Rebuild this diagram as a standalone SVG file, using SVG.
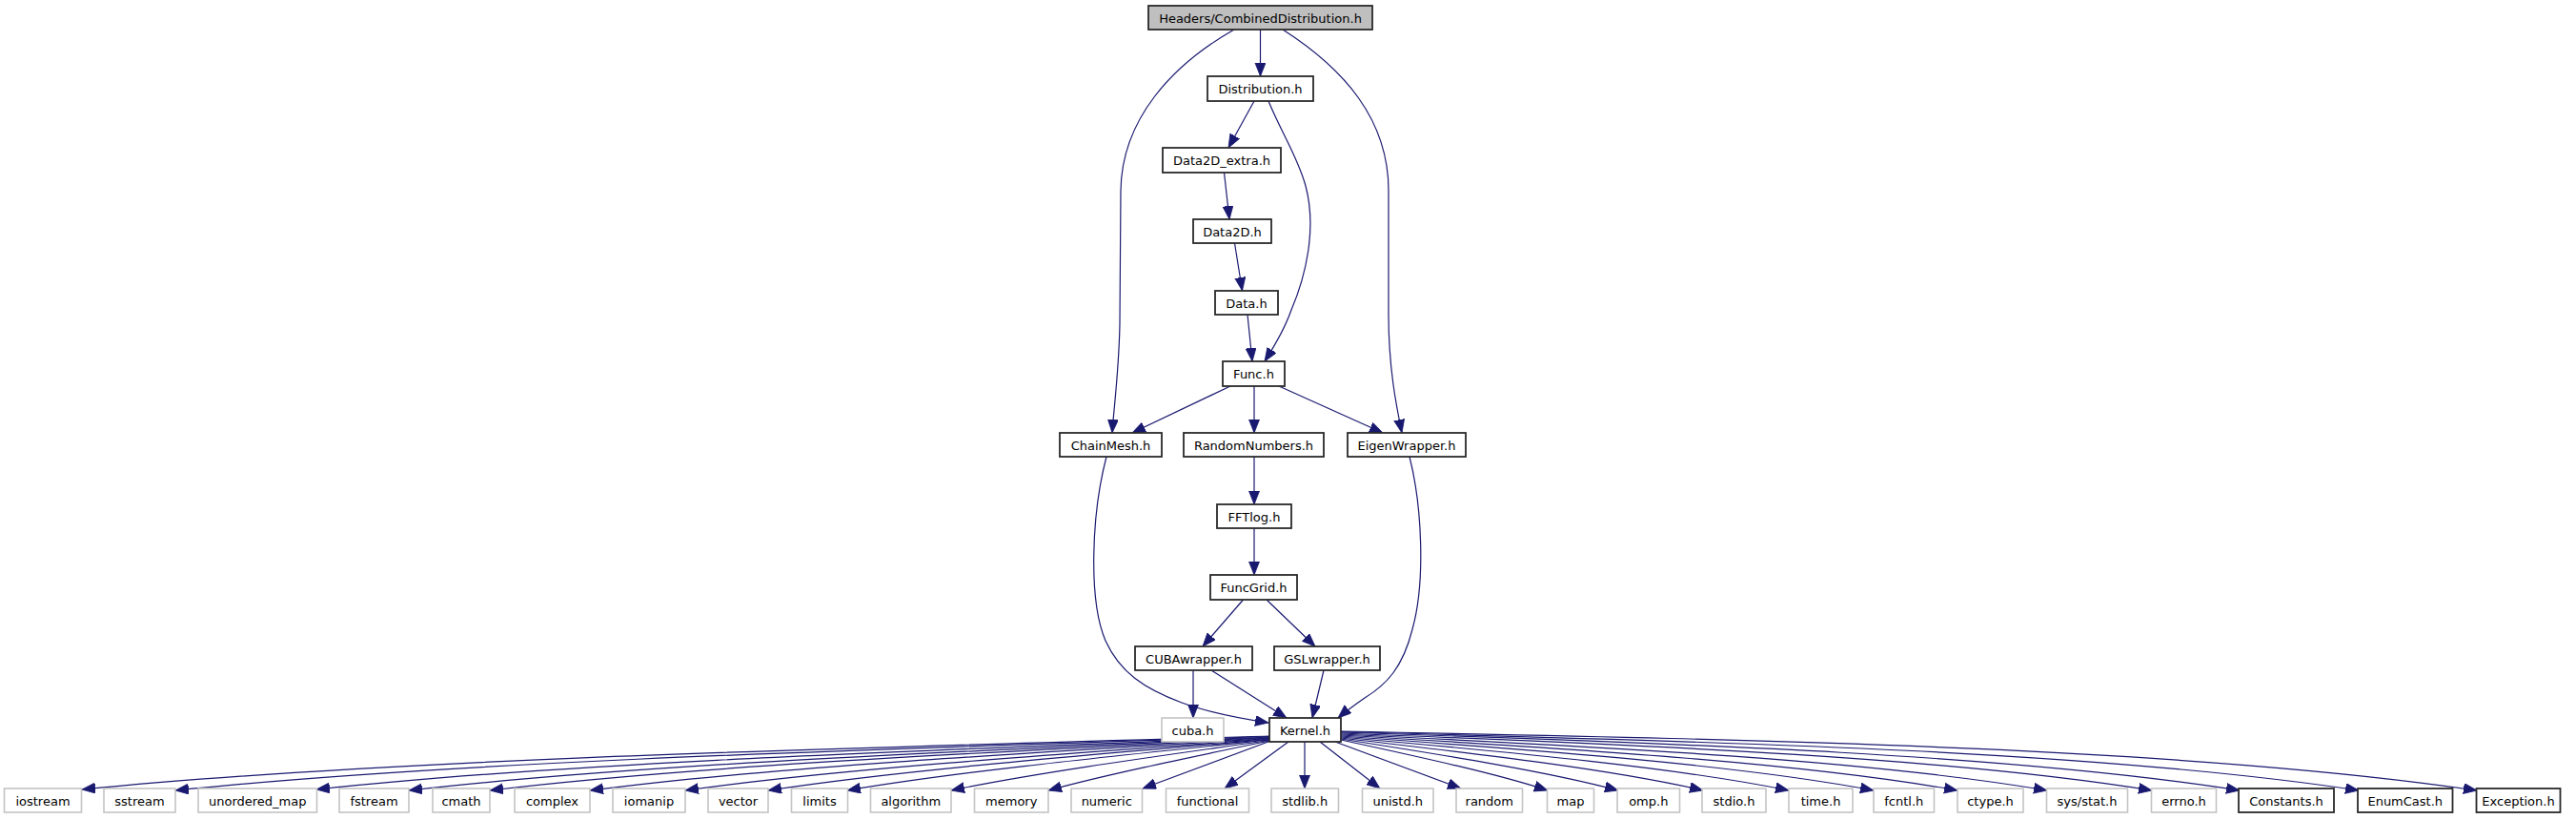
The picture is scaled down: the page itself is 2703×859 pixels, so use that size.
<svg xmlns="http://www.w3.org/2000/svg" width="2703" height="859" viewBox="0 0 2703 859">
<style>
.n rect{fill:#ffffff;stroke:#2a2a2a;stroke-width:1.8}
.n.ext rect{stroke:#c4c4c4;stroke-width:1.6}
.n.root rect{fill:#bfbfbf}
.n text{font-family:"DejaVu Sans","Liberation Sans",sans-serif;font-size:13px;fill:#000000;text-anchor:middle}
.e path{fill:none;stroke:#191970;stroke-width:1.2;marker-end:url(#ah)}
</style>
<defs>
<marker id="ah" markerUnits="userSpaceOnUse" markerWidth="15" markerHeight="12" refX="14" refY="5.5" orient="auto">
<path d="M0,0 L14,5.5 L0,11 z" fill="#191970" stroke="#191970" stroke-width="0.8"/>
</marker>
</defs>
<rect x="0" y="0" width="2703" height="859" fill="#ffffff"/>
<g id="edges" class="e">
<path d="M1322.5,31 L1322.5,80"/>
<path d="M1295,31 C1230,68 1177,125 1176,200 L1175,340 C1174,390 1169,425 1167,454"/>
<path d="M1346,31 C1410,72 1457,125 1457,200 L1457,330 C1457,385 1465,425 1471,454"/>
<path d="M1316,106 L1289,155"/>
<path d="M1331,106 C1345,140 1362,165 1370,195 C1382,240 1370,290 1355,325 C1348,345 1336,365 1327,379"/>
<path d="M1284.5,181 L1290,230"/>
<path d="M1295.5,255 L1303.5,305"/>
<path d="M1309,330 L1314,379"/>
<path d="M1291,405 L1188,454"/>
<path d="M1316,405 L1316,454"/>
<path d="M1342,405 L1451,454"/>
<path d="M1161,479 C1145,540 1142,630 1160,672 C1175,705 1200,722 1240,737 C1270,748 1305,754 1331,758"/>
<path d="M1316,479 L1316,529"/>
<path d="M1316,554 L1316,603"/>
<path d="M1304.5,629 L1262,678"/>
<path d="M1329,629 L1380,678"/>
<path d="M1479,479 C1492,530 1496,610 1482,660 C1472,700 1455,718 1432,732 C1422,739 1412,746 1404,753"/>
<path d="M1252,703 L1252,753"/>
<path d="M1271,703 L1350,753"/>
<path d="M1389,703 L1377,753"/>
<path d="M1332,772 C833.6,786 397.5,797.2 86,828"/>
<path d="M1332,772.5 C872.8,787.3 471,799.3 184,829"/>
<path d="M1332,773 C932,788.4 582,801 332,828"/>
<path d="M1332,773.5 C970.8,789.7 654.75,803.05 429,829"/>
<path d="M1332,774 C1004.8,790.6 718.5,804.4 514,829"/>
<path d="M1332,774.5 C1046.8,791.6 797.25,806 619,829"/>
<path d="M1332,775 C1086.8,792.6 872.25,807.5 719,829"/>
<path d="M1332,775.5 C1121.6,793.5 937.5,808.8 806,829"/>
<path d="M1332,776 C1154.8,794.4 999.75,810.1 889,829"/>
<path d="M1332,776.5 C1198.4,795.4 1081.5,811.7 998,829"/>
<path d="M1332,777 C1239.2,796.3 1158,813.1 1100,829"/>
<path d="M1332,777.5 L1199,827"/>
<path d="M1352,778 L1285,827"/>
<path d="M1369,778 L1369,827"/>
<path d="M1385,778 L1448,827"/>
<path d="M1401,778 L1533,827"/>
<path d="M1407,776 C1493.8,794.8 1569.75,811.4 1624,829"/>
<path d="M1407,775 C1523.4,793.3 1625.25,809.6 1698,829"/>
<path d="M1407,774 C1559,791.6 1692,807.3 1787,829"/>
<path d="M1407,773 C1595,789.9 1759.5,805.1 1877,829"/>
<path d="M1407,772 C1630.6,788.1 1826.25,802.7 1966,829"/>
<path d="M1407,771 C1665.8,786.3 1892.25,800.3 2054,829"/>
<path d="M1407,770 C1703.4,784.4 1962.75,797.7 2148,829"/>
<path d="M1407,769 C1747.4,782.3 2045.25,794.7 2258,829"/>
<path d="M1407,768 C1784.2,780.3 2114.25,792 2350,829"/>
<path d="M1407,767.5 C1834.2,778.3 2208,788.8 2475,829"/>
<path d="M1407,767 C1883.8,776.3 2301,785.6 2599,829"/>
</g>
<g id="node-root" class="n root"><rect x="1205" y="6" width="235" height="25"/><text x="1322.5" y="23.5">Headers/CombinedDistribution.h</text></g>
<g id="node-distribution" class="n"><rect x="1267" y="80" width="111" height="26"/><text x="1322.5" y="98">Distribution.h</text></g>
<g id="node-data2d-extra" class="n"><rect x="1220" y="155" width="124" height="26"/><text x="1282" y="173">Data2D_extra.h</text></g>
<g id="node-data2d" class="n"><rect x="1252" y="230" width="82" height="25"/><text x="1293" y="247.5">Data2D.h</text></g>
<g id="node-data" class="n"><rect x="1275" y="305" width="66" height="25"/><text x="1308" y="322.5">Data.h</text></g>
<g id="node-func" class="n"><rect x="1283" y="379" width="65" height="26"/><text x="1315.5" y="397">Func.h</text></g>
<g id="node-chainmesh" class="n"><rect x="1112" y="454" width="107" height="25"/><text x="1165.5" y="471.5">ChainMesh.h</text></g>
<g id="node-randomnumbers" class="n"><rect x="1242" y="454" width="147" height="25"/><text x="1315.5" y="471.5">RandomNumbers.h</text></g>
<g id="node-eigenwrapper" class="n"><rect x="1414" y="454" width="124" height="25"/><text x="1476" y="471.5">EigenWrapper.h</text></g>
<g id="node-fftlog" class="n"><rect x="1277" y="529" width="78" height="25"/><text x="1316" y="546.5">FFTlog.h</text></g>
<g id="node-funcgrid" class="n"><rect x="1270" y="603" width="91" height="26"/><text x="1315.5" y="621">FuncGrid.h</text></g>
<g id="node-cubawrapper" class="n"><rect x="1191" y="678" width="123" height="25"/><text x="1252.5" y="695.5">CUBAwrapper.h</text></g>
<g id="node-gslwrapper" class="n"><rect x="1337" y="678" width="111" height="25"/><text x="1392.5" y="695.5">GSLwrapper.h</text></g>
<g id="node-cuba" class="n ext"><rect x="1219" y="753" width="65" height="25"/><text x="1251.5" y="770.5">cuba.h</text></g>
<g id="node-kernel" class="n"><rect x="1332" y="753" width="75" height="25"/><text x="1369.5" y="770.5">Kernel.h</text></g>
<g id="node-iostream" class="n ext"><rect x="4.5" y="827" width="81" height="25"/><text x="45" y="844.5">iostream</text></g>
<g id="node-sstream" class="n ext"><rect x="109" y="827" width="75" height="25"/><text x="146.5" y="844.5">sstream</text></g>
<g id="node-unordered-map" class="n ext"><rect x="208" y="827" width="124.5" height="25"/><text x="270.25" y="844.5">unordered_map</text></g>
<g id="node-fstream" class="n ext"><rect x="356" y="827" width="73" height="25"/><text x="392.5" y="844.5">fstream</text></g>
<g id="node-cmath" class="n ext"><rect x="454" y="827" width="60" height="25"/><text x="484" y="844.5">cmath</text></g>
<g id="node-complex" class="n ext"><rect x="540" y="827" width="79" height="25"/><text x="579.5" y="844.5">complex</text></g>
<g id="node-iomanip" class="n ext"><rect x="643" y="827" width="76" height="25"/><text x="681" y="844.5">iomanip</text></g>
<g id="node-vector" class="n ext"><rect x="743" y="827" width="63" height="25"/><text x="774.5" y="844.5">vector</text></g>
<g id="node-limits" class="n ext"><rect x="830.5" y="827" width="59" height="25"/><text x="860" y="844.5">limits</text></g>
<g id="node-algorithm" class="n ext"><rect x="913.5" y="827" width="84.5" height="25"/><text x="955.75" y="844.5">algorithm</text></g>
<g id="node-memory" class="n ext"><rect x="1022.5" y="827" width="77.5" height="25"/><text x="1061.25" y="844.5">memory</text></g>
<g id="node-numeric" class="n ext"><rect x="1124" y="827" width="74.5" height="25"/><text x="1161.25" y="844.5">numeric</text></g>
<g id="node-functional" class="n ext"><rect x="1223.5" y="827" width="87" height="25"/><text x="1267" y="844.5">functional</text></g>
<g id="node-stdlib" class="n ext"><rect x="1334" y="827" width="70.5" height="25"/><text x="1369.25" y="844.5">stdlib.h</text></g>
<g id="node-unistd" class="n ext"><rect x="1429.5" y="827" width="74.5" height="25"/><text x="1466.75" y="844.5">unistd.h</text></g>
<g id="node-random" class="n ext"><rect x="1528" y="827" width="69.5" height="25"/><text x="1562.75" y="844.5">random</text></g>
<g id="node-map" class="n ext"><rect x="1623.5" y="827" width="49" height="25"/><text x="1648" y="844.5">map</text></g>
<g id="node-omp" class="n ext"><rect x="1697" y="827" width="65.5" height="25"/><text x="1729.75" y="844.5">omp.h</text></g>
<g id="node-stdio" class="n ext"><rect x="1786" y="827" width="67" height="25"/><text x="1819.5" y="844.5">stdio.h</text></g>
<g id="node-time" class="n ext"><rect x="1877" y="827" width="67" height="25"/><text x="1910.5" y="844.5">time.h</text></g>
<g id="node-fcntl" class="n ext"><rect x="1966" y="827" width="63.5" height="25"/><text x="1997.75" y="844.5">fcntl.h</text></g>
<g id="node-ctype" class="n ext"><rect x="2054" y="827" width="69" height="25"/><text x="2088.5" y="844.5">ctype.h</text></g>
<g id="node-sysstat" class="n ext"><rect x="2147.5" y="827" width="85" height="25"/><text x="2190" y="844.5">sys/stat.h</text></g>
<g id="node-errno" class="n ext"><rect x="2257.5" y="827" width="68" height="25"/><text x="2291.5" y="844.5">errno.h</text></g>
<g id="node-constants" class="n"><rect x="2349" y="827" width="100" height="25"/><text x="2399" y="844.5">Constants.h</text></g>
<g id="node-enumcast" class="n"><rect x="2474" y="827" width="99.5" height="25"/><text x="2523.75" y="844.5">EnumCast.h</text></g>
<g id="node-exception" class="n"><rect x="2598.5" y="827" width="88" height="25"/><text x="2642.5" y="844.5">Exception.h</text></g>
</svg>
